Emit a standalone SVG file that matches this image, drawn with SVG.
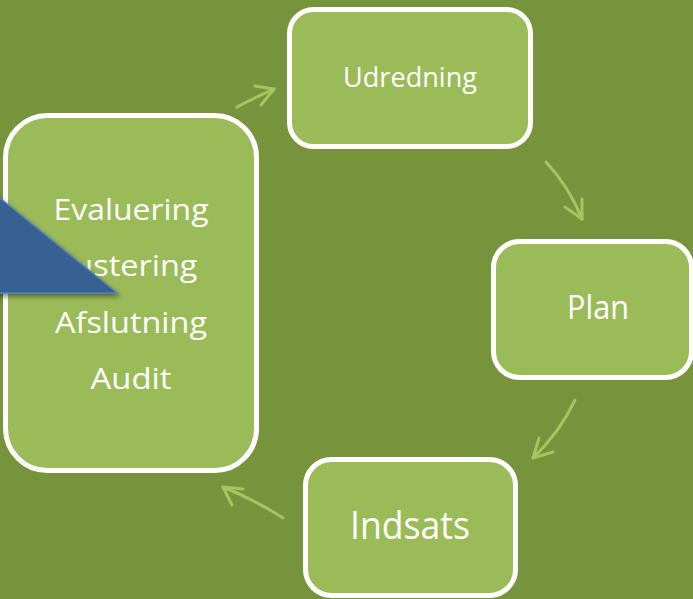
<svg xmlns="http://www.w3.org/2000/svg" width="693" height="599" viewBox="0 0 693 599">
<defs>
<style>
.node{fill:#9bbb59;stroke:#ffffff;stroke-width:5}
.lbl{font-family:"Open Sans","Liberation Sans",sans-serif;fill:#ffffff;text-anchor:middle}
.conn path{fill:none;stroke:#a3c65f;stroke-width:3;stroke-linecap:round;stroke-linejoin:round}
</style>
<filter id="sh" x="-20%" y="-20%" width="140%" height="150%">
<feDropShadow dx="2" dy="3" stdDeviation="2.5" flood-color="#000000" flood-opacity="0.45"/>
</filter>
</defs>
<rect width="693" height="599" fill="#77933c"/>
<g id="connectors" class="conn">
<path d="M237,107 Q256,97 274,89"/>
<path d="M255,86 L274,89 L261,105"/>
<path d="M546,162 Q570,188 582,219"/>
<path d="M565,207 L582,219 L582,199"/>
<path d="M575,400 Q560,432 533,458"/>
<path d="M539,438 L533,458 L553,452"/>
<path d="M283,518 Q255,500 223,487"/>
<path d="M243,489 L223,487 L232,505"/>
</g>
<g id="node-udredning">
<rect class="node" x="289.5" y="9.5" width="241" height="137" rx="24"/>
<text class="lbl" x="410" y="87" font-size="27.5" textLength="134" lengthAdjust="spacingAndGlyphs">Udredning</text>
</g>
<g id="node-plan">
<rect class="node" x="493.5" y="241.5" width="198" height="136" rx="26"/>
<text class="lbl" x="598" y="319" font-size="33" textLength="62" lengthAdjust="spacingAndGlyphs">Plan</text>
</g>
<g id="node-indsats">
<rect class="node" x="305.5" y="459.5" width="210" height="136" rx="26"/>
<text class="lbl" x="410" y="539" font-size="38.5" textLength="120" lengthAdjust="spacingAndGlyphs">Indsats</text>
</g>
<g id="node-evaluering">
<rect class="node" x="5.5" y="115.5" width="251" height="355" rx="42"/>
<text class="lbl" x="131" y="220" font-size="30" textLength="155" lengthAdjust="spacingAndGlyphs">Evaluering</text>
<text class="lbl" x="131" y="276" font-size="30" textLength="133" lengthAdjust="spacingAndGlyphs">Justering</text>
<text class="lbl" x="131" y="333" font-size="30" textLength="152" lengthAdjust="spacingAndGlyphs">Afslutning</text>
<text class="lbl" x="131" y="389" font-size="30" textLength="81" lengthAdjust="spacingAndGlyphs">Audit</text>
</g>
<g id="triangle">
<polygon points="-10,190 117,293 -10,293" fill="#376092" stroke="#4f81bd" stroke-width="1.5" filter="url(#sh)"/>
</g>
</svg>
